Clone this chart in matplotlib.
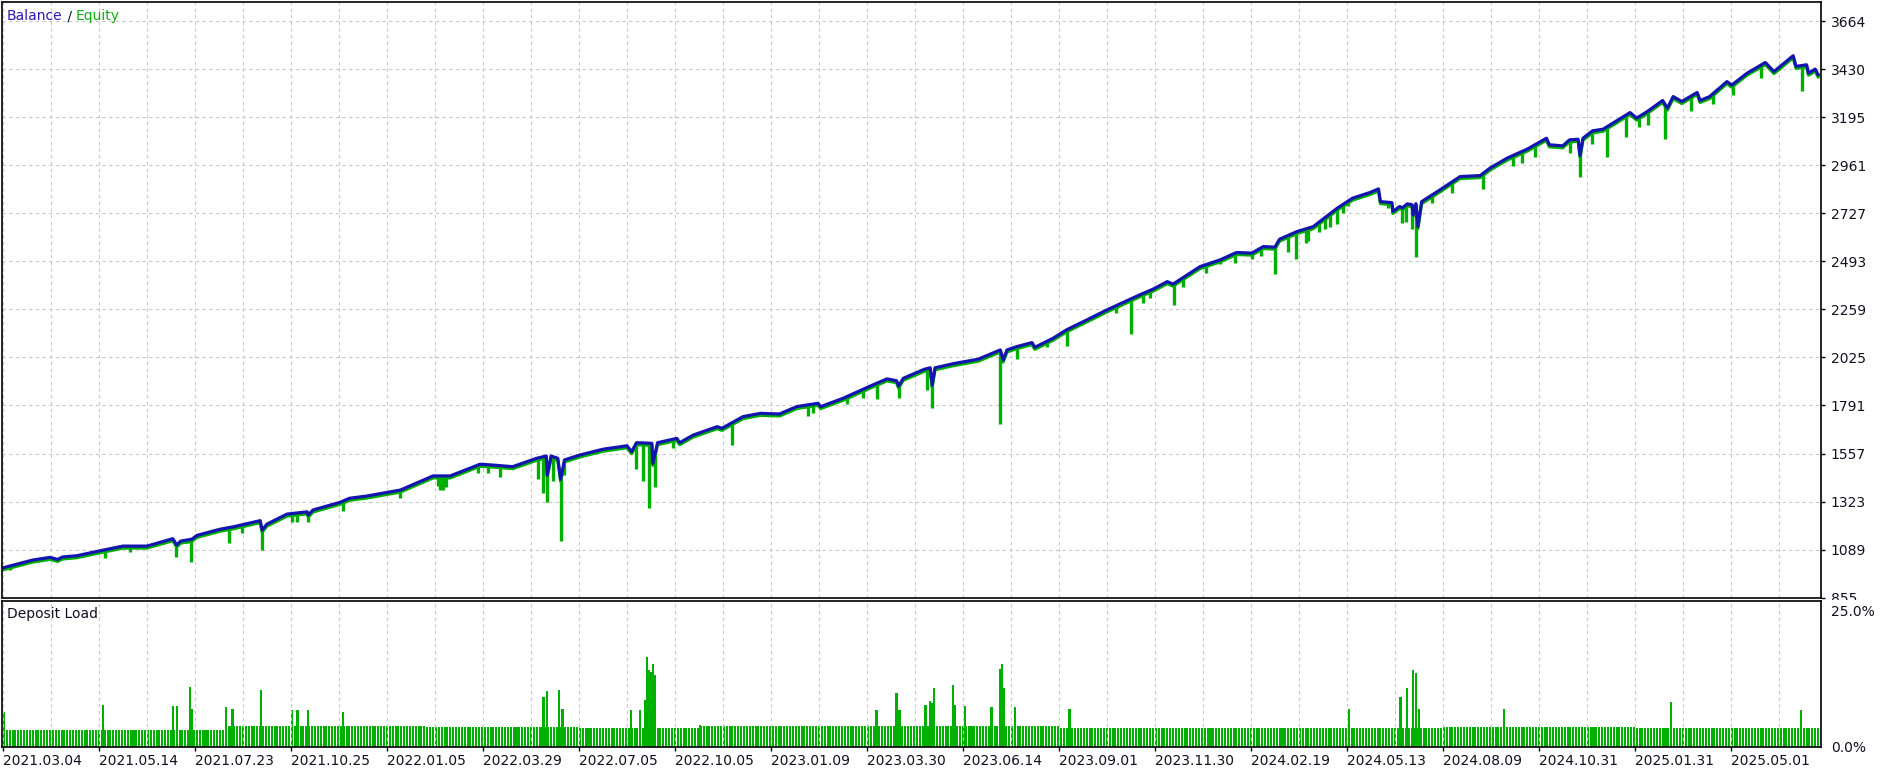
import numpy as np
import matplotlib
matplotlib.use("Agg")
import matplotlib.pyplot as plt
from matplotlib import transforms
from matplotlib.patches import Rectangle

# balance curve (deal number, balance)
bal_deal = [0, 31, 49, 57, 62, 77, 101, 125, 150, 177, 181, 185, 197, 202, 226, 240,
            268, 270, 275, 296, 317, 318, 323, 351, 361, 379, 414, 448, 466, 486,
            497, 510, 531, 556, 566, 567, 571, 578, 581, 585, 601, 625, 650, 655,
            660, 676, 677, 682, 702, 705, 719, 744, 749, 771, 789, 809, 827, 849,
            852, 875, 906, 921, 931, 933, 938, 960, 966, 968, 971, 990, 1016, 1039,
            1042, 1046, 1056, 1072, 1075, 1094, 1108, 1129, 1150, 1171, 1184, 1198,
            1213, 1219, 1247, 1268, 1285, 1301, 1313, 1325, 1330, 1348, 1365, 1390,
            1406, 1424, 1433, 1435, 1447, 1448, 1455, 1458, 1463, 1468, 1469, 1472,
            1474, 1478, 1497, 1518, 1539, 1549, 1567, 1588, 1608, 1611, 1625, 1632,
            1641, 1643, 1646, 1656, 1667, 1677, 1695, 1702, 1713, 1729, 1734, 1740,
            1749, 1765, 1768, 1778, 1796, 1801, 1817, 1836, 1845, 1865, 1868, 1879,
            1881, 1888, 1891]
bal_value = [1000, 1038, 1051, 1041, 1053, 1059, 1083, 1106, 1106, 1142, 1111, 1130,
             1140, 1158, 1188, 1200, 1230, 1184, 1213, 1262, 1273, 1257, 1282, 1319,
             1339, 1350, 1379, 1448, 1448, 1485, 1505, 1501, 1493, 1534, 1545, 1452,
             1545, 1534, 1431, 1526, 1550, 1578, 1595, 1566, 1610, 1607, 1509, 1610,
             1631, 1610, 1647, 1688, 1680, 1737, 1753, 1750, 1786, 1802, 1786, 1826,
             1891, 1921, 1912, 1886, 1924, 1968, 1975, 1890, 1975, 1995, 2017, 2062,
             2013, 2062, 2078, 2098, 2075, 2119, 2160, 2208, 2257, 2302, 2330, 2358,
             2395, 2383, 2468, 2501, 2537, 2534, 2566, 2563, 2602, 2639, 2663, 2753,
             2802, 2829, 2847, 2785, 2780, 2737, 2761, 2755, 2774, 2770, 2720, 2775,
             2663, 2785, 2842, 2907, 2912, 2948, 2997, 3041, 3094, 3062, 3057, 3086,
             3089, 3010, 3094, 3130, 3138, 3167, 3219, 3192, 3224, 3278, 3241, 3297,
             3273, 3317, 3278, 3297, 3370, 3353, 3411, 3463, 3419, 3496, 3444, 3452,
             3411, 3431, 3403]

# equity drawdowns below balance (deal number, lowest equity)
dip_deal = [7, 106, 132, 180, 192, 196, 235, 249, 270, 301, 306, 318, 354, 414, 453,
            455, 458, 462, 495, 505, 518, 557, 563, 567, 573, 581, 585, 660, 667,
            673, 679, 698, 759, 839, 844, 879, 896, 911, 933, 963, 968, 1039, 1043,
            1049, 1056, 1088, 1109, 1160, 1175, 1188, 1195, 1220, 1229, 1253, 1268,
            1284, 1301, 1311, 1325, 1339, 1347, 1357, 1360, 1371, 1377, 1382, 1390,
            1396, 1401, 1443, 1457, 1462, 1468, 1472, 1489, 1510, 1542, 1573, 1583,
            1596, 1632, 1643, 1655, 1671, 1691, 1704, 1714, 1732, 1759, 1782, 1802,
            1832, 1850, 1874, 1891]
dip_low = [990, 1046, 1078, 1054, 1119, 1030, 1119, 1168, 1087, 1225, 1225, 1225,
           1278, 1342, 1400, 1380, 1379, 1395, 1461, 1463, 1444, 1431, 1365, 1321,
           1424, 1130, 1453, 1482, 1424, 1291, 1394, 1583, 1599, 1742, 1756, 1800,
           1830, 1822, 1826, 1867, 1777, 1701, 2040, 2069, 2017, 2075, 2082, 2241,
           2140, 2290, 2315, 2282, 2371, 2436, 2480, 2485, 2505, 2521, 2431, 2541,
           2504, 2585, 2593, 2638, 2654, 2663, 2675, 2729, 2762, 2754, 2680, 2686,
           2651, 2516, 2778, 2827, 2846, 2959, 2972, 3002, 3021, 2907, 3065, 3002,
           3099, 3151, 3160, 3090, 3229, 3262, 3306, 3390, 3428, 3322, 3414]

# deposit load: usual level per stretch of deals, plus the spikes (%)
load_seg_start = [0, 232, 440, 600, 725, 1100, 1250, 1500, 1700]
load_seg_level = [3.2, 3.9, 3.7, 3.5, 3.8, 3.5, 3.4, 3.6, 3.5]
spike_deal = [1, 104, 177, 181, 195, 197, 232, 239, 269, 301, 307, 318, 354, 563,
              567, 579, 583, 654, 664, 669, 671, 673, 675, 677, 679, 726, 910, 931,
              934, 961, 966, 968, 970, 990, 992, 1002, 1030, 1039, 1041, 1043, 1054,
              1111, 1402, 1456, 1463, 1469, 1472, 1475, 1564, 1738, 1873]
spike_pct = [6.4, 7.8, 7.5, 7.5, 11.1, 7.0, 7.3, 7.0, 10.4, 6.8, 6.8, 6.8, 6.4, 9.1,
             10.2, 10.4, 6.9, 6.8, 6.8, 8.6, 16.6, 14.1, 13.8, 15.3, 13.3, 4.0, 6.8,
             10.0, 6.8, 7.7, 8.4, 8.0, 10.9, 11.3, 7.7, 7.5, 7.3, 14.4, 15.3, 10.8,
             7.3, 6.9, 6.9, 9.1, 10.9, 14.2, 13.5, 7.0, 6.9, 8.2, 6.8]

date_labels = ['2021.03.04', '2021.05.14', '2021.07.23', '2021.10.25', '2022.01.05',
               '2022.03.29', '2022.07.05', '2022.10.05', '2023.01.09', '2023.03.30',
               '2023.06.14', '2023.09.01', '2023.11.30', '2024.02.19', '2024.05.13',
               '2024.08.09', '2024.10.31', '2025.01.31', '2025.05.01']
y_labels = ['855', '1089', '1323', '1557', '1791', '2025', '2259', '2493', '2727',
            '2961', '3195', '3430', '3664']

BLUE = '#1414b0'
GREEN = '#00b000'
GRID = '#c8c8c8'
TXT = '#101020'

plt.rcParams['font.family'] = 'DejaVu Sans'
plt.rcParams['font.size'] = 10

W, H = 1885, 769
fig = plt.figure(figsize=(W / 100, H / 100), dpi=100)
ax = fig.add_axes([2 / W, 171 / H, 1819 / W, 596 / H])
ax2 = fig.add_axes([2 / W, 22 / H, 1819 / W, 146 / H])
ax2.set_zorder(3)

# equity: drawn a touch below balance, plus the drawdown spikes
shift = ax.transData + transforms.ScaledTranslation(0, -2 / 100, fig.dpi_scale_trans)
ax.plot(bal_deal, bal_value, color=GREEN, lw=2.3, transform=shift)
bal_at = np.interp(dip_deal, bal_deal, bal_value)
ax.vlines(dip_deal, dip_low, bal_at, color=GREEN, lw=2.4)
ax.plot(bal_deal, bal_value, color=BLUE, lw=2.3)

# deposit load bars
bar_x = np.arange(1, 1892, 3)
seg = np.searchsorted(load_seg_start, bar_x, side='right') - 1
ax2.bar(bar_x, np.array(load_seg_level)[seg], width=2.1, color=GREEN, linewidth=0)
ax2.bar(spike_deal, spike_pct, width=2.4, color=GREEN, linewidth=0)

major = np.arange(0, 1900, 100)
minor = np.arange(50, 1900, 100)
yt = 855 + 234.08 * np.arange(13)

for a in (ax, ax2):
    a.set_xlim(-1, 1894)
    a.set_xticks(major)
    a.set_xticks(minor, minor=True)
    a.grid(True, which='both', axis='x', color=GRID, lw=0.8, ls=(0, (3, 3)))
    for s in a.spines.values():
        s.set_linewidth(1.2)
        s.set_color('black')
    a.yaxis.tick_right()
    a.tick_params(which='minor', length=0)

ax.set_ylim(853, 3758)
ax.set_yticks(yt)
ax.set_yticklabels(y_labels)
ax.grid(True, axis='y', color=GRID, lw=0.8, ls=(0, (3, 3)))
ax.tick_params(axis='x', length=0, labelbottom=False)
ax.tick_params(axis='y', length=3, width=1, pad=4, labelcolor=TXT)

ax2.set_ylim(0, 26.8)
ax2.set_yticks([0, 25])
ax2.set_yticklabels(['0.0%', '25.0%'])
ax2.tick_params(axis='y', length=0, pad=7, labelcolor=TXT)
ax2.set_xticklabels(date_labels, ha='left')
ax2.tick_params(axis='x', length=3, width=1, pad=2, labelcolor=TXT)

# the lower panel hides the bottom half of the '855' label
ax2.add_artist(Rectangle((1822 / W, 165 / H), 63 / W, 4.5 / H, transform=fig.transFigure,
                         facecolor='white', edgecolor='none', clip_on=False, zorder=1))

t1 = ax.text(5 / 1819, 1 - 14 / 596, 'Balance', transform=ax.transAxes,
             color='#2a1ab0', va='center', ha='left')
t2 = ax.annotate(' / ', xy=(1, 0), xycoords=t1, va='bottom', color=TXT)
ax.annotate('Equity', xy=(1, 0), xycoords=t2, va='bottom', color='#10b010')
ax2.text(5 / 1819, 0.91, 'Deposit Load', transform=ax2.transAxes,
         color=TXT, va='center', ha='left')

fig.savefig('out.png', dpi=100)
